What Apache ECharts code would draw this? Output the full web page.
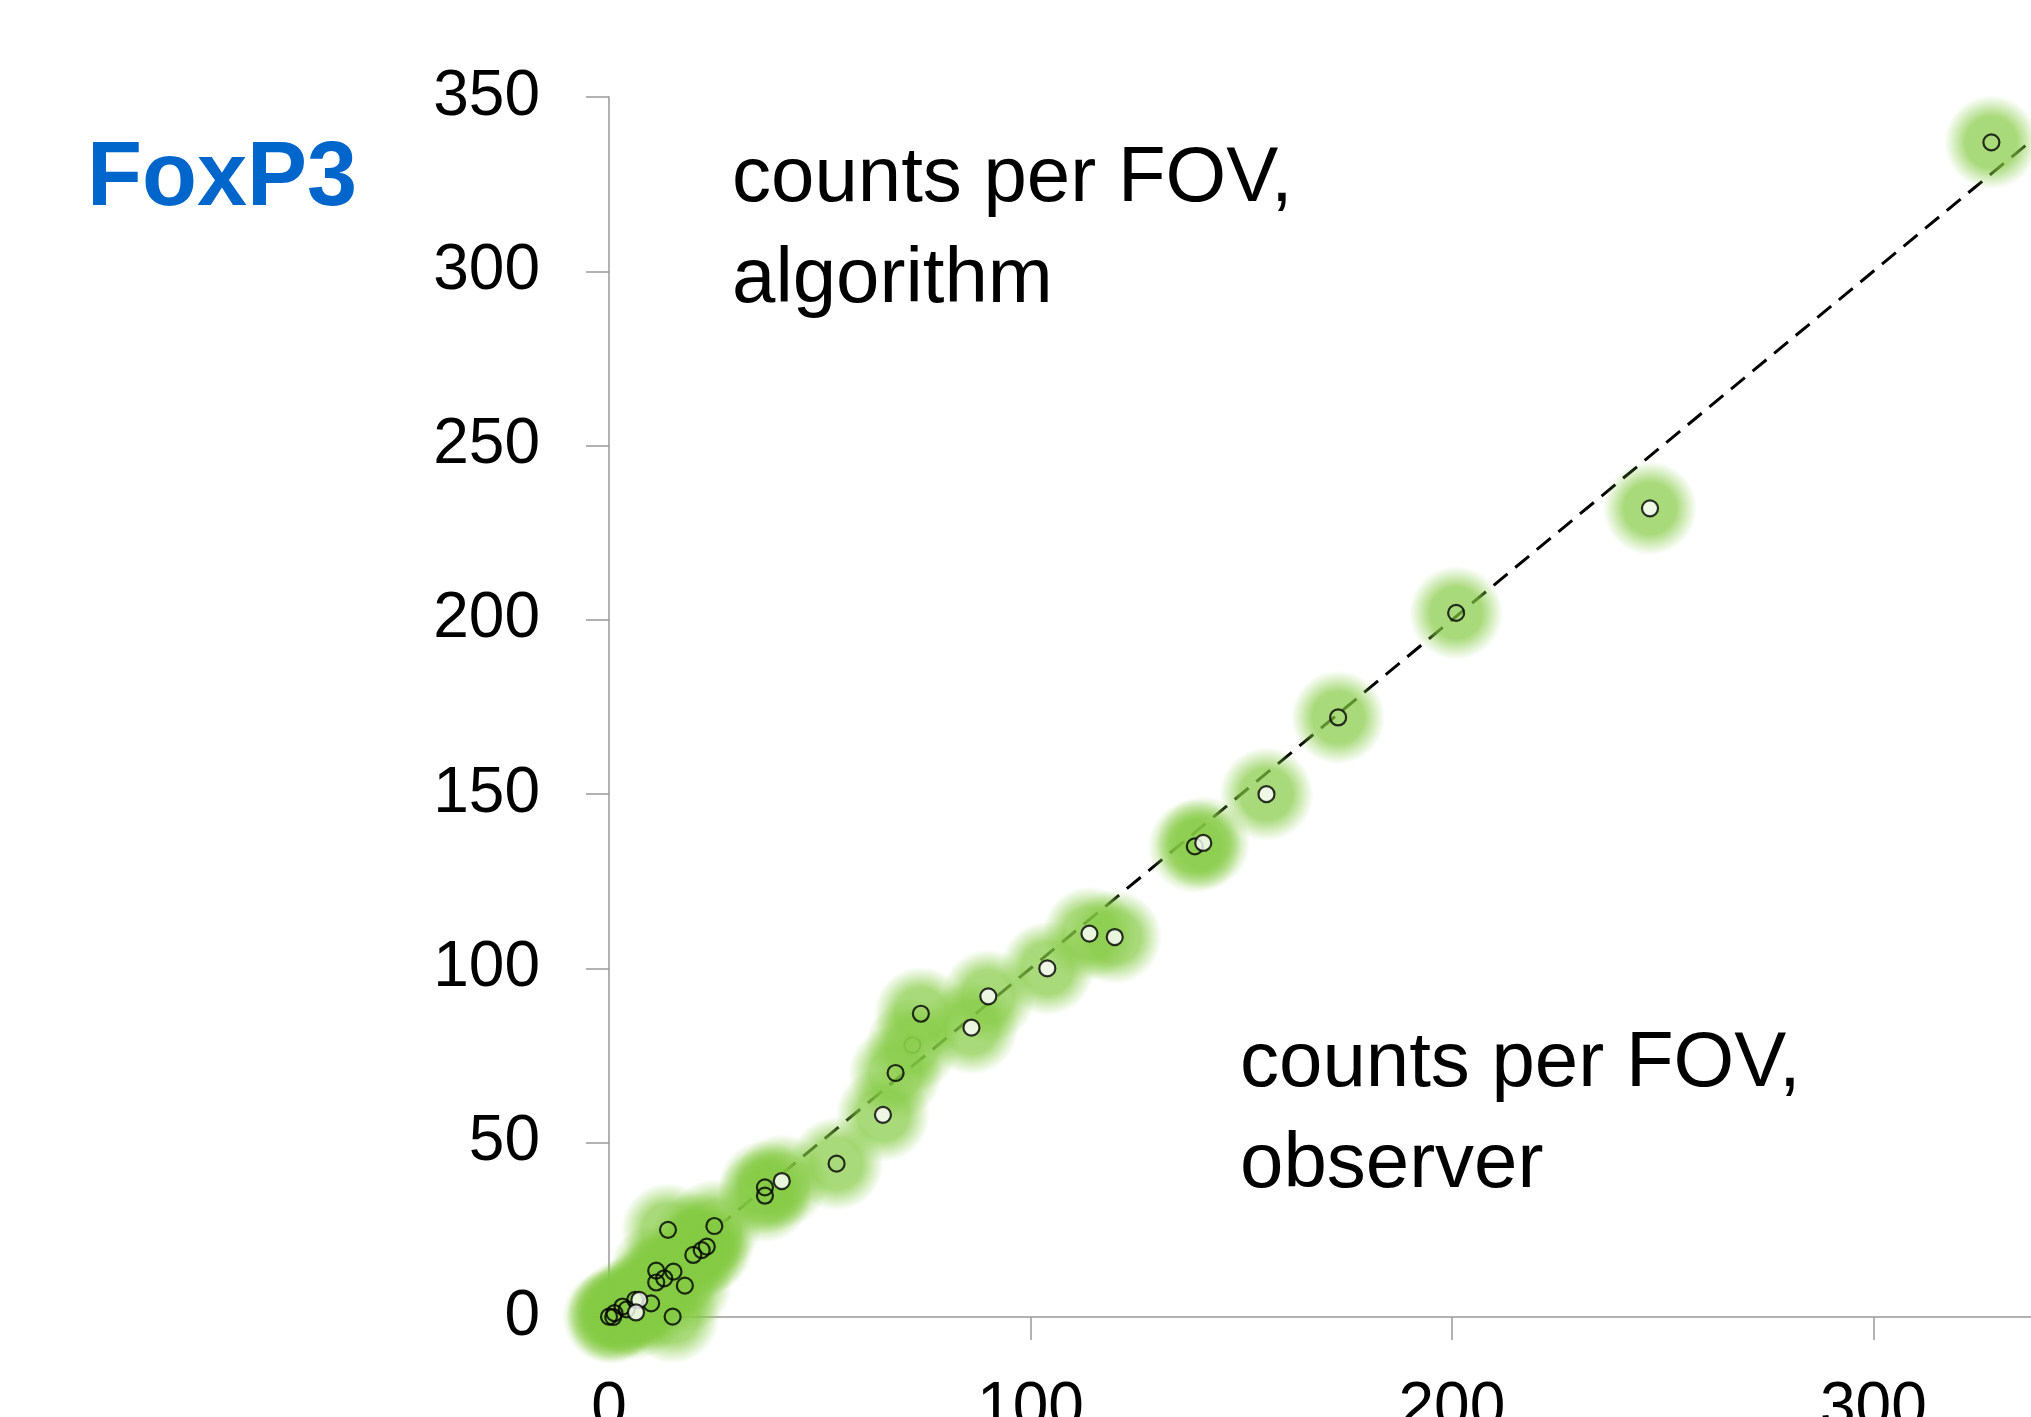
<!DOCTYPE html>
<html>
<head>
<meta charset="utf-8">
<script src="https://cdn.jsdelivr.net/npm/echarts@6/dist/echarts.min.js"></script>
<style>
html,body{margin:0;padding:0;background:#fff;}
#chart{width:2031px;height:1417px;}
</style>
</head>
<body>
<div id="chart"></div>
<script>
// observer (x) vs algorithm (y) counts per FOV
const whitePoints = [
  [247,232],[156,150],[141,136],[114,110],[120,109],[104,100],[90,92],[86,83],
  [65,58],[41,39],[7.2,4.9],[6.4,1.3]
];
const greenPoints = [
  [328,337],[201,202],[173,172],[139,135],[74,87],[68,70],[54,44],[37,37.2],[37,34.8],
  [25,26.1],[14,25],[23.2,20.2],[22,19.2],[20,17.8],[15.3,13],[11.2,13.3],[13.1,11.1],
  [11.2,9.9],[18,9],[15.1,0.1],[10,3.9],[6.2,4.9],[4.2,2.2],[3.2,3.0],[1.3,1.1],[0,0.1],[1,0]
];
const fadedPoints = [[72,78],[21,22.3]];
const identityLine = [[0,0],[350,350]];
const yTicks = [0,50,100,150,200,250,300,350];
const xTicks = [0,100,200,300];
const xVisibleMax = 337.4;

const allPoints = whitePoints.concat(greenPoints, fadedPoints);
const chart = echarts.init(document.getElementById('chart'));
const FONT = '"Liberation Sans", Arial, sans-serif';
const glow = {
  type: 'radial', x: 0.5, y: 0.5, r: 0.5,
  colorStops: [
    {offset: 0, color: 'rgba(132,202,66,0.88)'},
    {offset: 0.55, color: 'rgba(132,202,66,0.88)'},
    {offset: 0.8, color: 'rgba(132,202,66,0.38)'},
    {offset: 1, color: 'rgba(132,202,66,0)'}
  ]
};
const markerBase = {type: 'scatter', symbol: 'circle', symbolSize: 16, clip: false, silent: true};

chart.setOption({
  animation: false,
  backgroundColor: '#fff',
  grid: {left: 609, top: 97, bottom: 100, right: 0, outerBoundsMode: 'none', containLabel: false},
  xAxis: {
    type: 'value', min: 0, max: xVisibleMax, interval: 100,
    axisLine: {show: true, lineStyle: {color: '#999', width: 1.5}},
    axisTick: {show: true, length: 23, lineStyle: {color: '#999', width: 1.5}},
    splitLine: {show: false},
    axisLabel: {show: true, showMaxLabel: false, margin: 60, fontSize: 64, color: '#000', fontFamily: FONT,
      formatter: v => xTicks.includes(v) ? String(v) : ''}
  },
  yAxis: {
    type: 'value', min: 0, max: 350, interval: 50,
    axisLine: {show: true, lineStyle: {color: '#999', width: 1.5}},
    axisTick: {show: true, length: 23, lineStyle: {color: '#999', width: 1.5}},
    splitLine: {show: false},
    axisLabel: {margin: 69, fontSize: 64, color: '#000', fontFamily: FONT,
      formatter: v => yTicks.includes(v) ? String(v) : ''}
  },
  series: [
    {type: 'line', data: identityLine, symbol: 'none', z: 1, silent: true, clip: true,
      lineStyle: {color: '#000', width: 3, type: [18, 10]}},
    Object.assign({}, markerBase, {data: fadedPoints, z: 2,
      itemStyle: {color: '#fff', borderColor: '#333', borderWidth: 2.2}}),
    {type: 'scatter', data: allPoints, symbol: 'circle', symbolSize: 94, z: 3, clip: false, silent: true,
      itemStyle: {color: glow, borderWidth: 0}},
    Object.assign({}, markerBase, {data: greenPoints, z: 4,
      itemStyle: {color: 'rgba(0,0,0,0)', borderColor: '#000', borderWidth: 2.2}}),
    Object.assign({}, markerBase, {data: whitePoints, z: 5,
      itemStyle: {color: '#fff', borderColor: '#000', borderWidth: 2.2}})
  ],
  graphic: [
    {type: 'text', left: 87, top: 135, z: 10,
      style: {text: 'FoxP3', fontSize: 90, fontWeight: 'bold', fill: '#0066cc', fontFamily: FONT, lineHeight: 90}},
    {type: 'text', left: 732, top: 129, z: 10,
      style: {text: 'counts per FOV,\nalgorithm', fontSize: 78, fill: '#000', fontFamily: FONT, lineHeight: 101}},
    {type: 'text', left: 1240, top: 1014, z: 10,
      style: {text: 'counts per FOV,\nobserver', fontSize: 78, fill: '#000', fontFamily: FONT, lineHeight: 101}}
  ]
});
</script>
</body>
</html>
